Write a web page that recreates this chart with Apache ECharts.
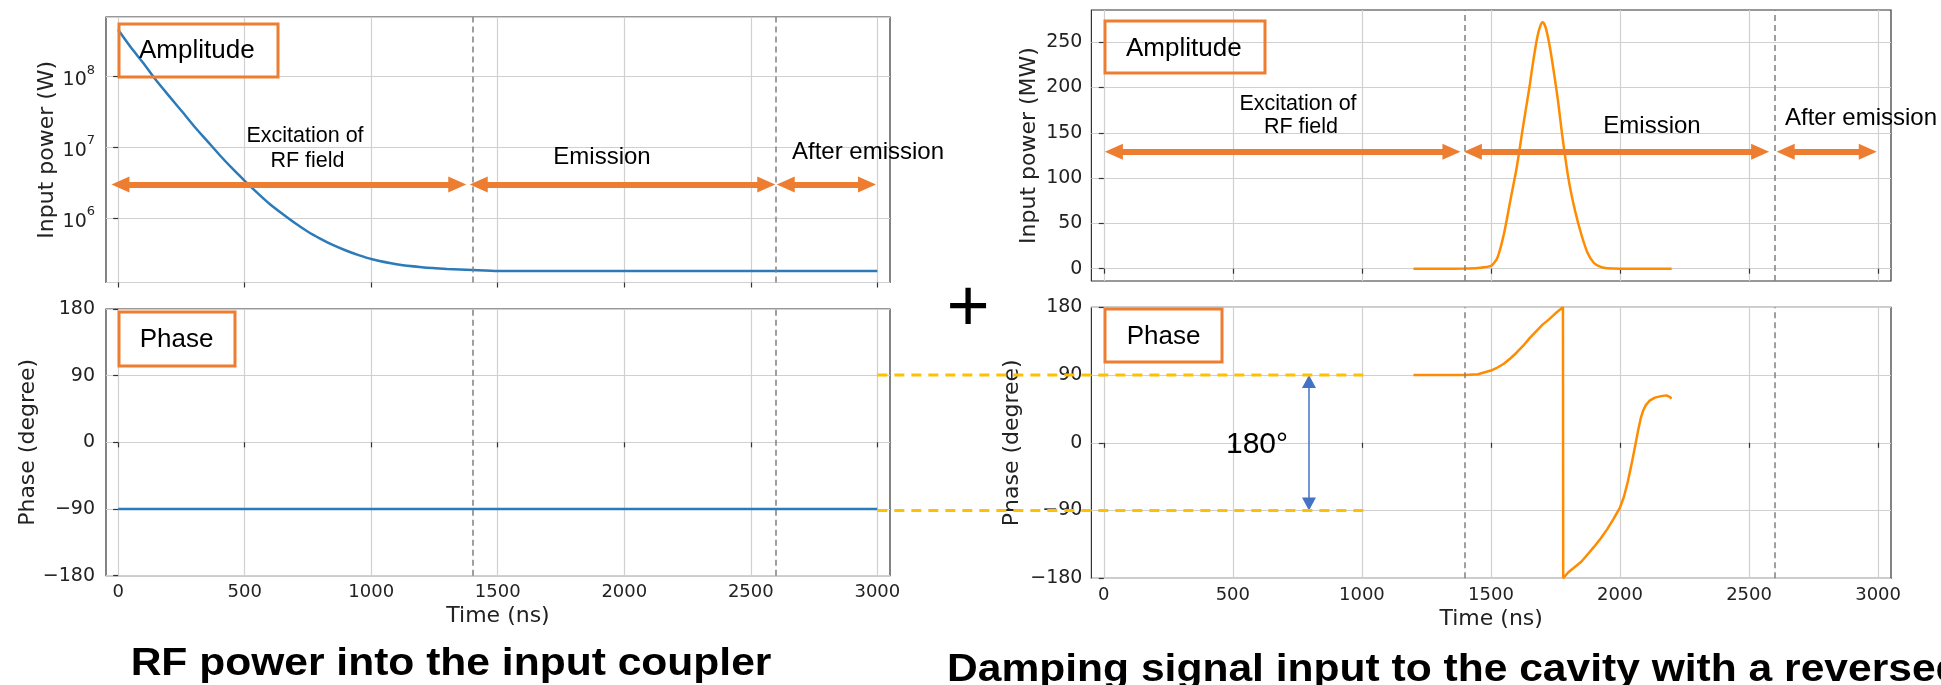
<!DOCTYPE html>
<html>
<head>
<meta charset="utf-8">
<script src="https://cdn.jsdelivr.net/npm/echarts@6/dist/echarts.min.js"></script>
<style>
html,body{margin:0;padding:0;background:#fff;}
#main{width:1941px;height:685px;}
</style>
</head>
<body>
<div id="main"></div>
<script>
// ticks
var timeTicks = [0, 500, 1000, 1500, 2000, 2500, 3000];
var powerTicksMW = [0, 50, 100, 150, 200, 250];
var regionLines = [1400, 2600];

// RF power into the input coupler (W), log scale
var inT = [0,50,100,150,200,250,300,350,400,450,500,550,600,650,700,750,800,850,900,950,1000,1100,1200,1300,1400,1500,1700,2000,2500,3000];
var inP = [4.6e8,2.6e8,1.55e8,8.9e7,5.4e7,3.3e7,2.0e7,1.26e7,7.9e6,5.1e6,3.39e6,2.29e6,1.58e6,1.15e6,8.5e5,6.46e5,5.13e5,4.17e5,3.51e5,3.02e5,2.66e5,2.24e5,2.04e5,1.93e5,1.86e5,1.8e5,1.8e5,1.8e5,1.8e5,1.8e5];
var inPhaseT = [0, 3000];
var inPhase = [-90, -90];

// damping signal (MW)
var dampT = [1200,1300,1400,1450,1500,1525,1550,1575,1600,1625,1650,1660,1670,1680,1690,1700,1710,1720,1730,1740,1750,1760,1775,1800,1825,1850,1875,1900,1925,1950,2000,2100,2200];
var dampP = [0,0,0.2,0.8,3,12,38,75,112,158,202,222,240,256,267,272,268,257,242,224,205,185,150,100,65,38,17,6,2,0.5,0,0,0];
var dampPhaseT = [1200,1300,1400,1450,1500,1525,1550,1575,1600,1625,1650,1675,1700,1725,1750,1779,1780,1800,1825,1850,1875,1900,1925,1950,1975,2000,2015,2030,2045,2060,2070,2080,2090,2100,2115,2135,2160,2180,2192,2200];
var dampPhase = [90,90,90,91,96,100,105,112,120,129,139,148,157,164,172,180,-180,-172,-165,-158,-148,-138,-127,-115,-101,-86,-72,-52,-28,-2,16,32,43,50,56,60,62,63,61,59];

// orange double arrows (ns spans, symbol centres)
var arrowsLeft = [[9, 1340], [1425, 2561], [2638, 2959]];
var arrowsRight = [[39, 1347], [1430, 2543], [2642, 2960]];

function zip(a, b){ return a.map(function(v, i){ return [v, b[i]]; }); }

var tickFont = 'DejaVu Sans';
var annoFont = '"Liberation Sans", Arial, sans-serif';
var gridColor = '#d0d0d0';
var blue = '#2b7bba', orange = '#ff8c00', arrowOrange = '#ED7D31';

function xAxisOpt(g, showLabel){
    return {
        type: 'value', gridIndex: g, min: -48, max: 3050,
        axisLine: {show: false},
        axisTick: {show: true, length: 5, customValues: timeTicks, lineStyle: {color: '#333', width: 1.2}},
        axisLabel: {show: showLabel, customValues: timeTicks, margin: 8, fontFamily: tickFont, fontSize: 18, color: '#222',
            formatter: function(v){ return String(v); }},
        splitLine: {show: true, lineStyle: {color: gridColor, width: 1.2}},
        name: showLabel ? 'Time (ns)' : '',
        nameLocation: 'middle', nameGap: 30,
        nameTextStyle: {fontFamily: tickFont, fontSize: 22, color: '#222'}
    };
}
function phaseAxis(g, gap, margin){
    return {
        type: 'value', gridIndex: g, min: -180, max: 180, interval: 90,
        axisLine: {show: false},
        axisTick: {show: true, length: 5, lineStyle: {color: '#333', width: 1.2}},
        axisLabel: {margin: margin, fontFamily: tickFont, fontSize: 19, color: '#222',
            formatter: function(v){ return v < 0 ? '\u2212' + (-v) : String(v); }},
        splitLine: {show: true, lineStyle: {color: gridColor, width: 1.2}},
        name: 'Phase (degree)', nameLocation: 'middle', nameGap: gap,
        nameTextStyle: {fontFamily: tickFont, fontSize: 22, color: '#222'}
    };
}
function vlines(){
    return regionLines.map(function(x){
        return {xAxis: x, symbol: 'none', lineStyle: {type: [6, 4], color: '#808080', width: 1.5}};
    });
}
function arrowLines(spans, y){
    return spans.map(function(s){
        return [
            {coord: [s[0], y], symbol: 'triangle', symbolSize: [16, 18],
             lineStyle: {type: 'solid', color: arrowOrange, width: 6}, itemStyle: {color: arrowOrange}},
            {coord: [s[1], y], symbol: 'triangle', symbolSize: [16, 18], itemStyle: {color: arrowOrange}}
        ];
    });
}
function gridOpt(l, t, w, h){
    return {left: l, top: t, width: w, height: h, show: true, borderColor: '#333', borderWidth: 1.2,
        containLabel: false, outerBoundsMode: 'none'};
}

var chart = echarts.init(document.getElementById('main'));
chart.setOption({
    animation: false,
    backgroundColor: '#fff',
    grid: [
        gridOpt(106, 17, 784, 265.5),
        gridOpt(106, 309, 784, 266.7),
        gridOpt(1091.4, 10, 799.6, 271),
        gridOpt(1091.4, 307.3, 799.6, 271)
    ],
    xAxis: [xAxisOpt(0, false), xAxisOpt(1, true), xAxisOpt(2, false), xAxisOpt(3, true)],
    yAxis: [
        {
            type: 'log', logBase: 10, gridIndex: 0, min: 1.24e5, max: 6.97e8,
            axisLine: {show: false},
            axisTick: {show: true, length: 5, lineStyle: {color: '#333', width: 1.2}},
            axisLabel: {margin: 11, showMinLabel: false, showMaxLabel: false,
                formatter: function(v){
                    var e = Math.log(v) / Math.LN10, r = Math.round(e);
                    if (Math.abs(e - r) > 1e-6) return '';
                    return '{b|10}{s|' + r + '}';
                },
                rich: {
                    b: {fontFamily: tickFont, fontSize: 19, color: '#222', verticalAlign: 'bottom', lineHeight: 26},
                    s: {fontFamily: tickFont, fontSize: 13, color: '#222', verticalAlign: 'top', lineHeight: 26}
                }},
            splitLine: {show: true, lineStyle: {color: gridColor, width: 1.2}},
            name: 'Input power (W)', nameLocation: 'middle', nameGap: 46,
            nameTextStyle: {fontFamily: tickFont, fontSize: 22, color: '#222'}
        },
        phaseAxis(1, 67, 11),
        {
            type: 'value', gridIndex: 2, min: -13.6, max: 285.6,
            axisLine: {show: false},
            axisTick: {show: true, length: 5, customValues: powerTicksMW, lineStyle: {color: '#333', width: 1.2}},
            axisLabel: {customValues: powerTicksMW, margin: 9, fontFamily: tickFont, fontSize: 19, color: '#222'},
            splitLine: {show: true, lineStyle: {color: gridColor, width: 1.2}},
            name: 'Input power (MW)', nameLocation: 'middle', nameGap: 51,
            nameTextStyle: {fontFamily: tickFont, fontSize: 22, color: '#222'}
        },
        phaseAxis(3, 68, 9)
    ],
    series: [
        {
            type: 'line', xAxisIndex: 0, yAxisIndex: 0, data: zip(inT, inP),
            showSymbol: false, smooth: 0.2, lineStyle: {color: blue, width: 2.5}, itemStyle: {color: blue},
            markLine: {silent: true, animation: false, symbol: ['none', 'none'], label: {show: false},
                data: vlines().concat(arrowLines(arrowsLeft, 3e6))}
        },
        {
            type: 'line', xAxisIndex: 1, yAxisIndex: 1, data: zip(inPhaseT, inPhase),
            showSymbol: false, lineStyle: {color: blue, width: 2.5}, itemStyle: {color: blue},
            markLine: {silent: true, animation: false, symbol: ['none', 'none'], label: {show: false}, data: vlines()}
        },
        {
            type: 'line', xAxisIndex: 2, yAxisIndex: 2, data: zip(dampT, dampP),
            showSymbol: false, smooth: 0.25, lineStyle: {color: orange, width: 2.5}, itemStyle: {color: orange},
            markLine: {silent: true, animation: false, symbol: ['none', 'none'], label: {show: false},
                data: vlines().concat(arrowLines(arrowsRight, 129))}
        },
        {
            type: 'line', xAxisIndex: 3, yAxisIndex: 3, data: zip(dampPhaseT, dampPhase),
            showSymbol: false, lineStyle: {color: orange, width: 2.5}, itemStyle: {color: orange},
            markLine: {silent: true, animation: false, symbol: ['none', 'none'], label: {show: false},
                data: vlines().concat([[
                    {coord: [795, 81.4], symbol: 'triangle', symbolSize: [14, 13],
                     lineStyle: {type: 'solid', color: '#4472C4', width: 1.5}, itemStyle: {color: '#4472C4'}},
                    {coord: [795, -81.4], symbol: 'triangle', symbolSize: [14, 13], itemStyle: {color: '#4472C4'}}
                ]])}
        }
    ]
});

// annotations
function box(x, y, w, h){
    return {type: 'rect', shape: {x: x, y: y, width: w, height: h}, z: 50,
        style: {fill: 'none', stroke: arrowOrange, lineWidth: 3}};
}
function txt(s, x, y, size, align, weight, sx){
    return {type: 'text', x: x, y: y, z: 60, scaleX: sx || 1,
        style: {text: s, font: (weight || 'normal') + ' ' + size + 'px ' + annoFont,
            fill: '#000', align: align || 'center', verticalAlign: 'middle'}};
}
var pL90 = chart.convertToPixel({gridIndex: 1}, [3000, 90]);
var pR90 = chart.convertToPixel({gridIndex: 3}, [1024, 90]);
var pRm90 = chart.convertToPixel({gridIndex: 3}, [1024, -90]);
function yellow(y){
    return {type: 'line', z: 70, shape: {x1: pL90[0], y1: y, x2: pR90[0], y2: y},
        style: {stroke: '#FFC000', lineWidth: 3, lineDash: [10, 7]}};
}

chart.setOption({
    graphic: [
        box(119, 24, 159, 53), txt('Amplitude', 139, 51, 26, 'left'),
        box(119, 312, 116, 54), txt('Phase', 176.5, 340, 26),
        box(1105, 21, 160, 52), txt('Amplitude', 1126, 49, 26, 'left'),
        box(1105, 309, 117, 53), txt('Phase', 1163.5, 337, 26),
        txt('Excitation of', 305, 136, 21.5), txt('RF field', 307.5, 161, 21.5),
        txt('Emission', 602, 157, 24), txt('After emission', 792, 152, 24, 'left'),
        txt('Excitation of', 1298, 104, 21.5), txt('RF field', 1301, 127.5, 21.5),
        txt('Emission', 1652, 126, 24), txt('After emission', 1785, 118, 24, 'left'),
        txt('+', 968, 311, 74),
        txt('180°', 1257, 445, 30),
        yellow(pR90[1]), yellow(pRm90[1]),
        txt('RF power into the input coupler', 451, 665, 38, 'center', 'bold', 1.12),
        txt('Damping signal input to the cavity with a reversed phase', 947, 671, 38, 'left', 'bold', 1.12)
    ]
});
</script>
</body>
</html>
